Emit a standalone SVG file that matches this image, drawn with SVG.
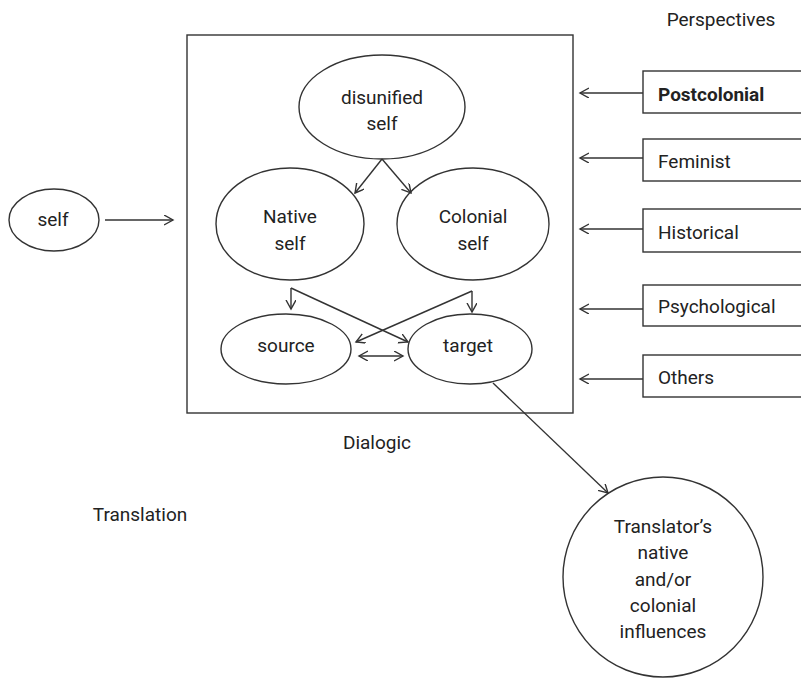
<svg xmlns="http://www.w3.org/2000/svg" width="801" height="679" viewBox="0 0 801 679">
<style>
  .shape { fill: #ffffff; stroke: #333333; stroke-width: 1.4; }
  .conn { fill: none; stroke: #333333; stroke-width: 1.4; }
  text { font-family: Roboto, "Liberation Sans", sans-serif; font-size: 19px; fill: #222222; }
  .mid { text-anchor: middle; }
  .bold { font-weight: bold; }
</style>
<defs>
  <marker id="arr" markerUnits="userSpaceOnUse" markerWidth="12" markerHeight="12" refX="9" refY="5" orient="auto-start-reverse" viewBox="0 0 12 12">
    <path d="M0,0 L9,5 L0,10" fill="none" stroke="#333333" stroke-width="1.4"/>
  </marker>
</defs>
<rect width="801" height="679" fill="#ffffff"/>

<g id="dialogic-box">
  <rect class="shape" x="187" y="35" width="386" height="378"/>
</g>

<g id="node-self">
  <ellipse class="shape" cx="54" cy="220" rx="45" ry="31"/>
  <text class="mid" x="53" y="226">self</text>
</g>
<g id="node-disunified">
  <ellipse class="shape" cx="382" cy="107" rx="83" ry="52"/>
  <text class="mid" x="382" y="104">disunified</text>
  <text class="mid" x="382" y="130">self</text>
</g>
<g id="node-native">
  <ellipse class="shape" cx="290" cy="224" rx="74" ry="56"/>
  <text class="mid" x="290" y="223">Native</text>
  <text class="mid" x="290" y="250">self</text>
</g>
<g id="node-colonial">
  <ellipse class="shape" cx="473" cy="224" rx="76" ry="56"/>
  <text class="mid" x="473" y="223">Colonial</text>
  <text class="mid" x="473" y="250">self</text>
</g>
<g id="node-source">
  <ellipse class="shape" cx="286" cy="349" rx="65" ry="35"/>
  <text class="mid" x="286" y="352">source</text>
</g>
<g id="node-target">
  <ellipse class="shape" cx="470" cy="349" rx="62" ry="35"/>
  <text class="mid" x="468" y="352">target</text>
</g>
<g id="node-translator">
  <circle class="shape" cx="663" cy="577" r="100"/>
  <text class="mid" x="663" y="533">Translator’s</text>
  <text class="mid" x="663" y="559">native</text>
  <text class="mid" x="663" y="586">and/or</text>
  <text class="mid" x="663" y="612">colonial</text>
  <text class="mid" x="663" y="638">influences</text>
</g>

<g id="persp-postcolonial">
  <rect class="shape" x="643" y="71" width="200" height="42"/>
  <text class="bold" x="658" y="101">Postcolonial</text>
</g>
<g id="persp-feminist">
  <rect class="shape" x="643" y="139" width="200" height="42"/>
  <text x="658" y="168">Feminist</text>
</g>
<g id="persp-historical">
  <rect class="shape" x="643" y="209" width="200" height="43"/>
  <text x="658" y="239">Historical</text>
</g>
<g id="persp-psychological">
  <rect class="shape" x="643" y="285" width="200" height="41"/>
  <text x="658" y="313">Psychological</text>
</g>
<g id="persp-others">
  <rect class="shape" x="643" y="355" width="200" height="42"/>
  <text x="658" y="384">Others</text>
</g>

<g id="labels">
  <text class="mid" x="721" y="26">Perspectives</text>
  <text class="mid" x="377" y="449">Dialogic</text>
  <text class="mid" x="140" y="521">Translation</text>
</g>

<g id="connectors">
  <line class="conn" x1="105" y1="220" x2="173" y2="220" marker-end="url(#arr)"/>
  <line class="conn" x1="382" y1="159" x2="355" y2="193" marker-end="url(#arr)"/>
  <line class="conn" x1="382" y1="159" x2="411" y2="193" marker-end="url(#arr)"/>
  <line class="conn" x1="291" y1="288" x2="291" y2="309" marker-end="url(#arr)"/>
  <line class="conn" x1="291" y1="288" x2="408" y2="342" marker-end="url(#arr)"/>
  <line class="conn" x1="472" y1="291" x2="472" y2="312" marker-end="url(#arr)"/>
  <line class="conn" x1="472" y1="291" x2="356" y2="342" marker-end="url(#arr)"/>
  <line class="conn" x1="359" y1="356" x2="403" y2="356" marker-start="url(#arr)" marker-end="url(#arr)"/>
  <line class="conn" x1="493" y1="383" x2="608" y2="493" marker-end="url(#arr)"/>
  <line class="conn" x1="643" y1="93" x2="580" y2="93" marker-end="url(#arr)"/>
  <line class="conn" x1="643" y1="158" x2="580" y2="158" marker-end="url(#arr)"/>
  <line class="conn" x1="643" y1="229" x2="580" y2="229" marker-end="url(#arr)"/>
  <line class="conn" x1="643" y1="309" x2="580" y2="309" marker-end="url(#arr)"/>
  <line class="conn" x1="643" y1="379" x2="580" y2="379" marker-end="url(#arr)"/>
</g>
</svg>
